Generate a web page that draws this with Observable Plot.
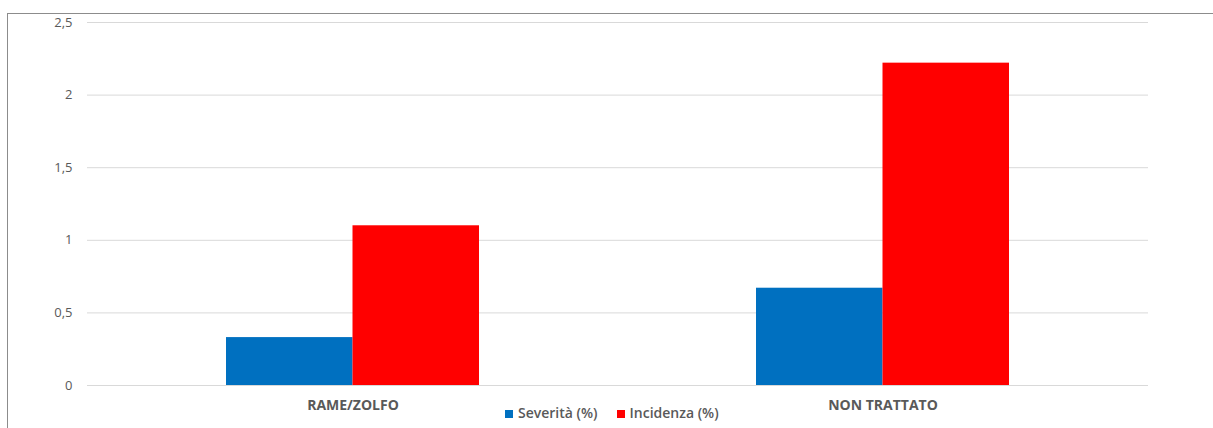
<!DOCTYPE html>
<html>
<head>
<meta charset="utf-8">
<script src="https://cdn.jsdelivr.net/npm/d3@7"></script>
<script src="https://cdn.jsdelivr.net/npm/@observablehq/plot@0.6"></script>
<style>
  html, body { margin: 0; padding: 0; background: #fff; }
  #wrap { position: relative; width: 1213px; height: 428px; overflow: hidden; }
  #frame { position: absolute; left: 7px; top: 13px; width: 1210px; height: 420px;
           border-left: 1.5px solid #8c8c8c; border-top: 1.5px solid #8c8c8c; box-sizing: border-box; }
  #chart { position: absolute; left: 0; top: 0; }
  #legend { position: absolute; top: 403px; left: 505px; font-family: "Open Sans", sans-serif;
            font-size: 14px; font-weight: 600; color: #595959; display: flex; gap: 19px; white-space: nowrap; }
  #legend span.sw { display: inline-block; width: 8px; height: 8px; margin-right: 5px; vertical-align: 0px; }
</style>
</head>
<body>
<div id="wrap">
  <div id="frame"></div>
  <div id="chart"></div>
  <div id="legend"></div>
</div>
<script>
const categories = ["RAME/ZOLFO", "NON TRATTATO"];
const seriesNames = ["Severità (%)", "Incidenza (%)"];
const severita = [0.33, 0.67];
const incidenza = [1.1, 2.22];
const yTicks = [0, 0.5, 1, 1.5, 2, 2.5];
const colors = ["#0070C0", "#FF0000"];

const sevData = categories.map((c, i) => ({category: c, series: seriesNames[0], value: severita[i]}));
const incData = categories.map((c, i) => ({category: c, series: seriesNames[1], value: incidenza[i]}));

const fmt = d => String(d).replace(".", ",");
const half = 126.5;

const chart = Plot.plot({
  width: 1213,
  height: 428,
  marginTop: 22,
  marginBottom: 43,
  marginLeft: 87,
  marginRight: 65,
  style: {fontFamily: "'Open Sans', sans-serif", background: "transparent"},
  x: {domain: categories, paddingInner: 0.523, paddingOuter: 0.2615, label: null},
  y: {domain: [0, 2.5], label: null},
  color: {domain: seriesNames, range: colors},
  marks: [
    Plot.gridY(yTicks, {stroke: "#d9d9d9", strokeOpacity: 1, strokeWidth: 1}),
    Plot.barY(sevData, {x: "category", y: "value", fill: "series", insetRight: half, insetLeft: 0}),
    Plot.barY(incData, {x: "category", y: "value", fill: "series", insetLeft: half, insetRight: 0}),
    Plot.axisY({ticks: yTicks, tickFormat: fmt, tickSize: 0, tickPadding: 15, fontSize: 13, fill: "#595959", label: null}),
    Plot.axisX({tickSize: 0, tickPadding: 15, fontSize: 14, fontWeight: "bold", fill: "#595959", label: null})
  ]
});
document.getElementById("chart").appendChild(chart);

const legend = document.getElementById("legend");
seriesNames.forEach((s, i) => {
  const item = document.createElement("div");
  item.innerHTML = `<span class="sw" style="background:${colors[i]}"></span>${s}`;
  legend.appendChild(item);
});
</script>
</body>
</html>
